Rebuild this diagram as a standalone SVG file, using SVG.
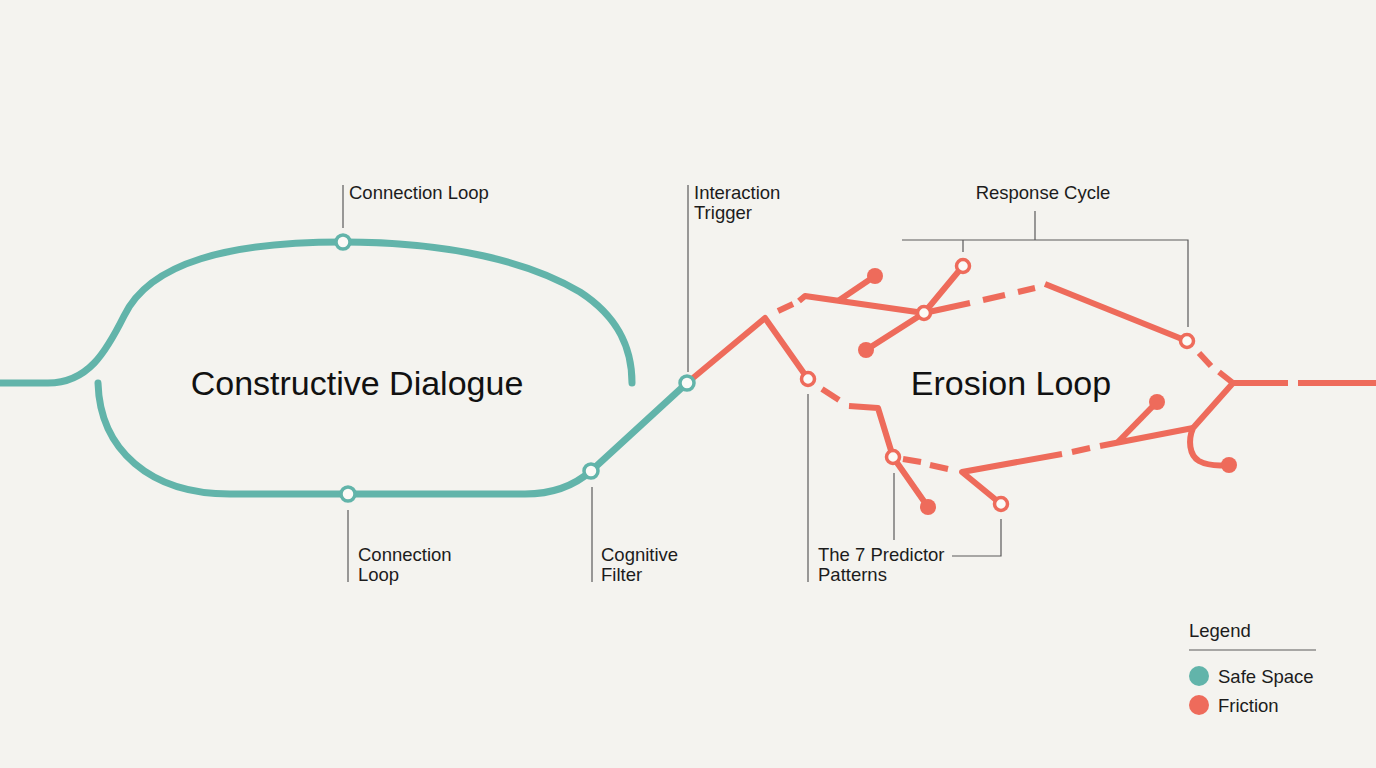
<svg xmlns="http://www.w3.org/2000/svg" width="1376" height="768" viewBox="0 0 1376 768">
<style>
.bg{fill:#f4f3ef}
.teal{fill:none;stroke:#62b4aa;stroke-width:7;stroke-linecap:round;stroke-linejoin:round}
.red{fill:none;stroke:#ee6b5b;stroke-width:6;stroke-linecap:butt;stroke-linejoin:round}
.ann{fill:none;stroke:#5a5a5a;stroke-width:1.2}
.ot{fill:#fbfaf7;stroke:#62b4aa;stroke-width:3.5}
.or{fill:#fbfaf7;stroke:#ee6b5b;stroke-width:3.5}
.dr{fill:#ee6b5b}
.lbl{font-family:"Liberation Sans",Arial,sans-serif;font-size:18.5px;fill:#1c1c1c}
.big{font-family:"Liberation Sans",Arial,sans-serif;font-size:34px;fill:#111}
</style>
<rect class="bg" x="0" y="0" width="1376" height="768"/>
<g id="connectors">
  <!-- teal safe-space lines -->
  <path class="teal" d="M0,383 L48,383 C88,383 106,352 124,316 C150,262 230,242 343,242 C450,242 530,262 580,292 C620,318 632,350 632,383"/>
  <path class="teal" d="M98,383 C100,450 150,494 230,494 L525,494 C555,494 575,485 591,471 L687,383"/>
  <!-- red friction lines -->
  <path class="red" d="M687,383 L765,318 L808,379"/>
  <path class="red" d="M778,311 L793,304"/>
  <path class="red" d="M799,301 L805,296 L924,313"/>
  <path class="red" d="M838,301 L875,276"/>
  <path class="red" d="M866,350 L924,313 L963,266"/>
  <path class="red" d="M924,313 L970,303"/>
  <path class="red" d="M983,300 L1005,295"/>
  <path class="red" d="M1018,292 L1035,288"/>
  <path class="red" d="M1045,284 L1187,341"/>
  <path class="red" d="M1199,353 L1211,366"/>
  <path class="red" d="M1219,372 L1233,383 L1288,383"/>
  <path class="red" d="M1298,383 L1376,383"/>
  <path class="red" d="M1233,383 L1193,428 C1188,440 1189,455 1199,461 C1208,466 1218,466 1229,465"/>
  <path class="red" d="M1193,428 L1100,446"/>
  <path class="red" d="M1117,443 L1157,402"/>
  <path class="red" d="M1090,448 L1072,452"/>
  <path class="red" d="M1062,454 L962,472 L1001,504"/>
  <path class="red" d="M948,469 L930,465"/>
  <path class="red" d="M921,462 L903,459"/>
  <path class="red" d="M808,379 L808,379"/>
  <path class="red" d="M822,389 L839,400"/>
  <path class="red" d="M849,406 L878,408 L893,457 L928,507"/>
  <!-- annotation leader lines -->
  <path class="ann" d="M343,185 V228"/>
  <path class="ann" d="M688,185 V372"/>
  <path class="ann" d="M348,510 V582"/>
  <path class="ann" d="M592,487 V582"/>
  <path class="ann" d="M808,394 V582"/>
  <path class="ann" d="M894,473 V540"/>
  <path class="ann" d="M1001,519 V556 H952"/>
  <path class="ann" d="M1035,211 V240 M902,240 H1188 V327 M963,240 V252"/>
</g>
<g id="node-connection-loop-top">
  <circle class="ot" cx="343" cy="242" r="7"/>
  <text class="lbl" x="349" y="199">Connection Loop</text>
</g>
<g id="node-connection-loop-bottom">
  <circle class="ot" cx="348" cy="494" r="7"/>
  <text class="lbl" x="358" y="561">Connection</text>
  <text class="lbl" x="358" y="581">Loop</text>
</g>
<g id="node-cognitive-filter">
  <circle class="ot" cx="591" cy="471" r="7"/>
  <text class="lbl" x="601" y="561">Cognitive</text>
  <text class="lbl" x="601" y="581">Filter</text>
</g>
<g id="node-interaction-trigger">
  <circle class="ot" cx="687" cy="383" r="7"/>
  <text class="lbl" x="694" y="199">Interaction</text>
  <text class="lbl" x="694" y="219">Trigger</text>
</g>
<g id="node-constructive-dialogue">
  <text class="big" x="357" y="395" text-anchor="middle">Constructive Dialogue</text>
</g>
<g id="node-erosion-loop">
  <text class="big" x="1011" y="395" text-anchor="middle">Erosion Loop</text>
</g>
<g id="node-predictor-patterns">
  <circle class="or" cx="808" cy="379" r="6.5"/>
  <circle class="or" cx="893" cy="457" r="6.5"/>
  <circle class="or" cx="1001" cy="504" r="6.5"/>
  <circle class="dr" cx="928" cy="507" r="8"/>
  <text class="lbl" x="818" y="561">The 7 Predictor</text>
  <text class="lbl" x="818" y="581">Patterns</text>
</g>
<g id="node-response-cycle">
  <circle class="or" cx="924" cy="313" r="6.5"/>
  <circle class="or" cx="963" cy="266" r="6.5"/>
  <circle class="or" cx="1187" cy="341" r="6.5"/>
  <circle class="dr" cx="875" cy="276" r="8"/>
  <circle class="dr" cx="866" cy="350" r="8"/>
  <circle class="dr" cx="1157" cy="402" r="8"/>
  <circle class="dr" cx="1229" cy="465" r="8"/>
  <text class="lbl" x="1043" y="199" text-anchor="middle">Response Cycle</text>
</g>
<g id="legend">
  <text class="lbl" x="1189" y="637">Legend</text>
  <path class="ann" d="M1189,650 H1316"/>
  <circle cx="1199" cy="676" r="10" fill="#62b4aa"/>
  <text class="lbl" x="1218" y="683">Safe Space</text>
  <circle cx="1199" cy="705" r="10" fill="#ee6b5b"/>
  <text class="lbl" x="1218" y="712">Friction</text>
</g>
</svg>
